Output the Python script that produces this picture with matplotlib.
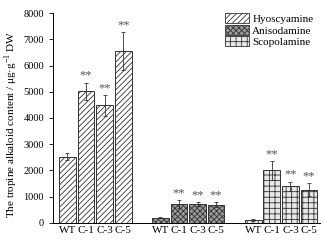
import numpy as np
import matplotlib.pyplot as plt
from matplotlib.patches import Patch

plt.rcParams['font.family'] = ['Liberation Serif', 'DejaVu Serif']
plt.rcParams['hatch.linewidth'] = 0.6
plt.rcParams['mathtext.fontset'] = 'custom'
plt.rcParams['mathtext.rm'] = 'Liberation Serif'

lines = ["WT", "C-1", "C-3", "C-5"]
alkaloids = ["Hyoscyamine", "Anisodamine", "Scopolamine"]
hyo = [2530, 5020, 4480, 6550]
hyo_err = [120, 330, 400, 720]
ani = [200, 720, 720, 700]
ani_err = [30, 150, 80, 90]
sco = [120, 2000, 1400, 1260]
sco_err = [30, 360, 170, 250]
marks = ["", "**", "**", "**"]

values = [hyo, ani, sco]
errors = [hyo_err, ani_err, sco_err]
styles = [
    dict(facecolor="white", hatch="//////", edgecolor="#333333"),
    dict(facecolor="#9a9a9a", hatch="xxxxxx", edgecolor="#333333"),
    dict(facecolor="#e8e8e8", hatch="+++", edgecolor="#333333"),
]

fig = plt.figure(figsize=(3.25, 2.42), dpi=100)
ax = fig.add_axes([0.163, 0.079, 0.822, 0.867])

xt, xl = [], []
for g in range(3):
    x = np.arange(4) + g * 5
    ax.bar(x, values[g], width=0.9, linewidth=0.7, **styles[g])
    ax.errorbar(x, values[g], yerr=errors[g], fmt="none", ecolor="#333333",
                elinewidth=0.6, capsize=1.5, capthick=0.6)
    for xi, v, e, m in zip(x, values[g], errors[g], marks):
        if m:
            ax.text(xi, v + e + 40, m, ha="center", va="bottom",
                    fontsize=9, color="#555555")
    xt += list(x)
    xl += lines

ax.set_xticks(xt)
ax.set_xticklabels(xl, fontsize=8)
ax.tick_params(axis="x", length=0, pad=2)
ax.set_xlim(-0.78, 13.6)
ax.set_ylim(0, 8000)
ax.set_yticks(np.arange(0, 8001, 1000))
ax.tick_params(axis="y", labelsize=7.5, direction="out", length=3, width=0.6)
ax.set_ylabel("The tropine alkaloid content / μg·g$^{\\mathrm{-1}}$ DW", fontsize=8)
ax.yaxis.set_label_coords(-0.125, 0.47)
ax.spines["top"].set_visible(False)
ax.spines["right"].set_visible(False)
for s in ["left", "bottom"]:
    ax.spines[s].set_linewidth(0.7)

handles = [Patch(linewidth=0.6, **st) for st in styles]
ax.legend(handles, alkaloids, loc="upper right", frameon=False, fontsize=8,
          handlelength=2.2, handleheight=1.0, handletextpad=0.3,
          labelspacing=0.05, bbox_to_anchor=(1.0, 1.03), borderaxespad=0.2)

fig.savefig("out.png", dpi=100)
